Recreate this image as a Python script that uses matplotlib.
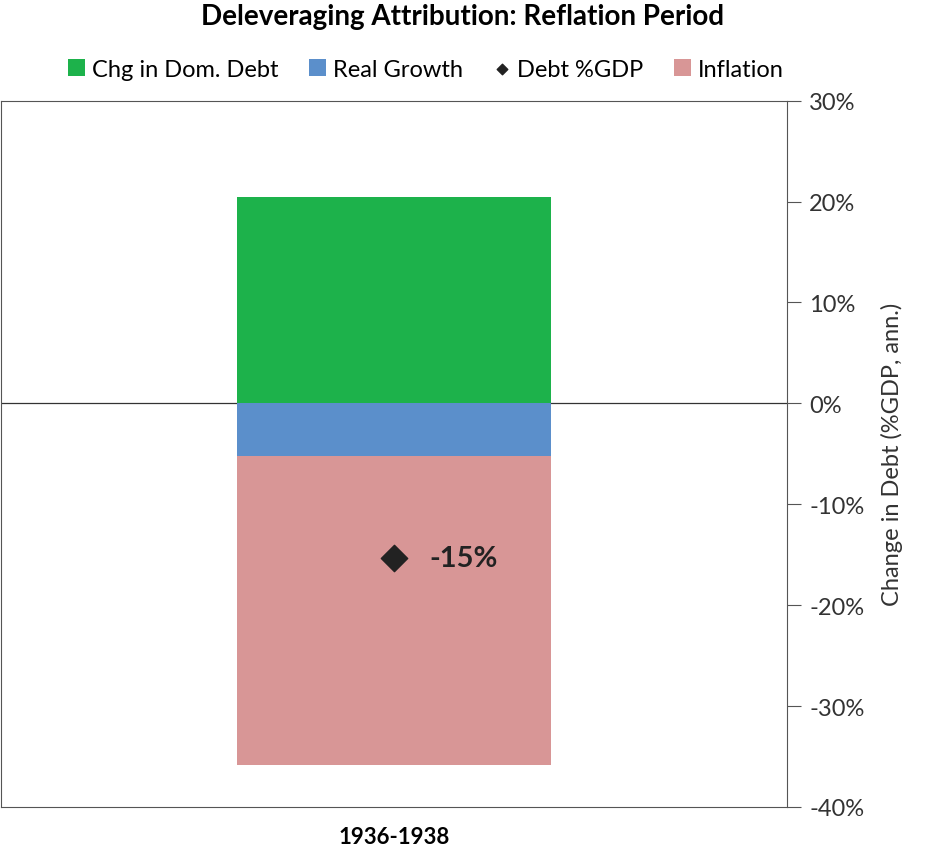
import matplotlib.pyplot as plt
from matplotlib.ticker import FuncFormatter

period = ["1936-1938"]
real_growth = [-5.2]
inflation = [-30.6]
chg_dom_debt = [20.5]
debt_gdp = [-15.3]

plt.rcParams['font.family'] = ['Lato', 'DejaVu Sans']

fig = plt.figure(figsize=(9.26, 8.53), dpi=100)
ax = fig.add_axes([0.001, 0.0528, 0.849, 0.828])

x = [0]
ax.bar(x, chg_dom_debt, width=0.4, color='#1db24b', label='Chg in Dom. Debt', zorder=2)
ax.bar(x, real_growth, width=0.4, color='#5b8fcb', label='Real Growth', zorder=2)
ax.bar(x, inflation, width=0.4, bottom=real_growth, color='#d89696', label='Inflation', zorder=2)
ax.scatter(x, debt_gdp, marker='D', s=180, color='#222222', label='Debt %GDP', zorder=3)
for xi, v in zip(x, debt_gdp):
    ax.text(xi + 0.045, v, f"{v:.0f}%", fontsize=21, fontweight='bold', va='center', color='#222222')

ax.axhline(0, color='#333333', lw=0.9, zorder=1)
ax.set_xlim(-0.5, 0.5)
ax.set_ylim(-40, 30)
ax.set_xticks(x)
ax.set_xticklabels(period, fontsize=16, fontweight='bold')
ax.tick_params(axis='x', length=0, pad=14)
ax.yaxis.tick_right()
ax.yaxis.set_label_position('right')
ax.set_yticks(range(-40, 31, 10))
ax.yaxis.set_major_formatter(FuncFormatter(lambda v, p: f"{v:.0f}%"))
ax.tick_params(axis='y', labelsize=17, length=10, color='#555555', labelcolor='#333333', pad=6)
ax.set_ylabel("Change in Debt (%GDP, ann.)", fontsize=17, color='#333333', labelpad=12)
for s in ax.spines.values():
    s.set_color('#555555')
    s.set_linewidth(0.8)

fig.suptitle("Deleveraging Attribution: Reflation Period", fontsize=20, fontweight='bold', y=0.995)
h, l = ax.get_legend_handles_labels()
order = [1, 2, 0, 3]
leg = fig.legend([h[i] for i in order], [l[i] for i in order], loc='upper center',
                 bbox_to_anchor=(0.46, 0.955), ncol=4, frameon=False, fontsize=17,
                 handlelength=0.7, handleheight=0.7, handletextpad=0.3, columnspacing=1.3,
                 markerscale=0.4)
fig.savefig("out.png", dpi=100)
